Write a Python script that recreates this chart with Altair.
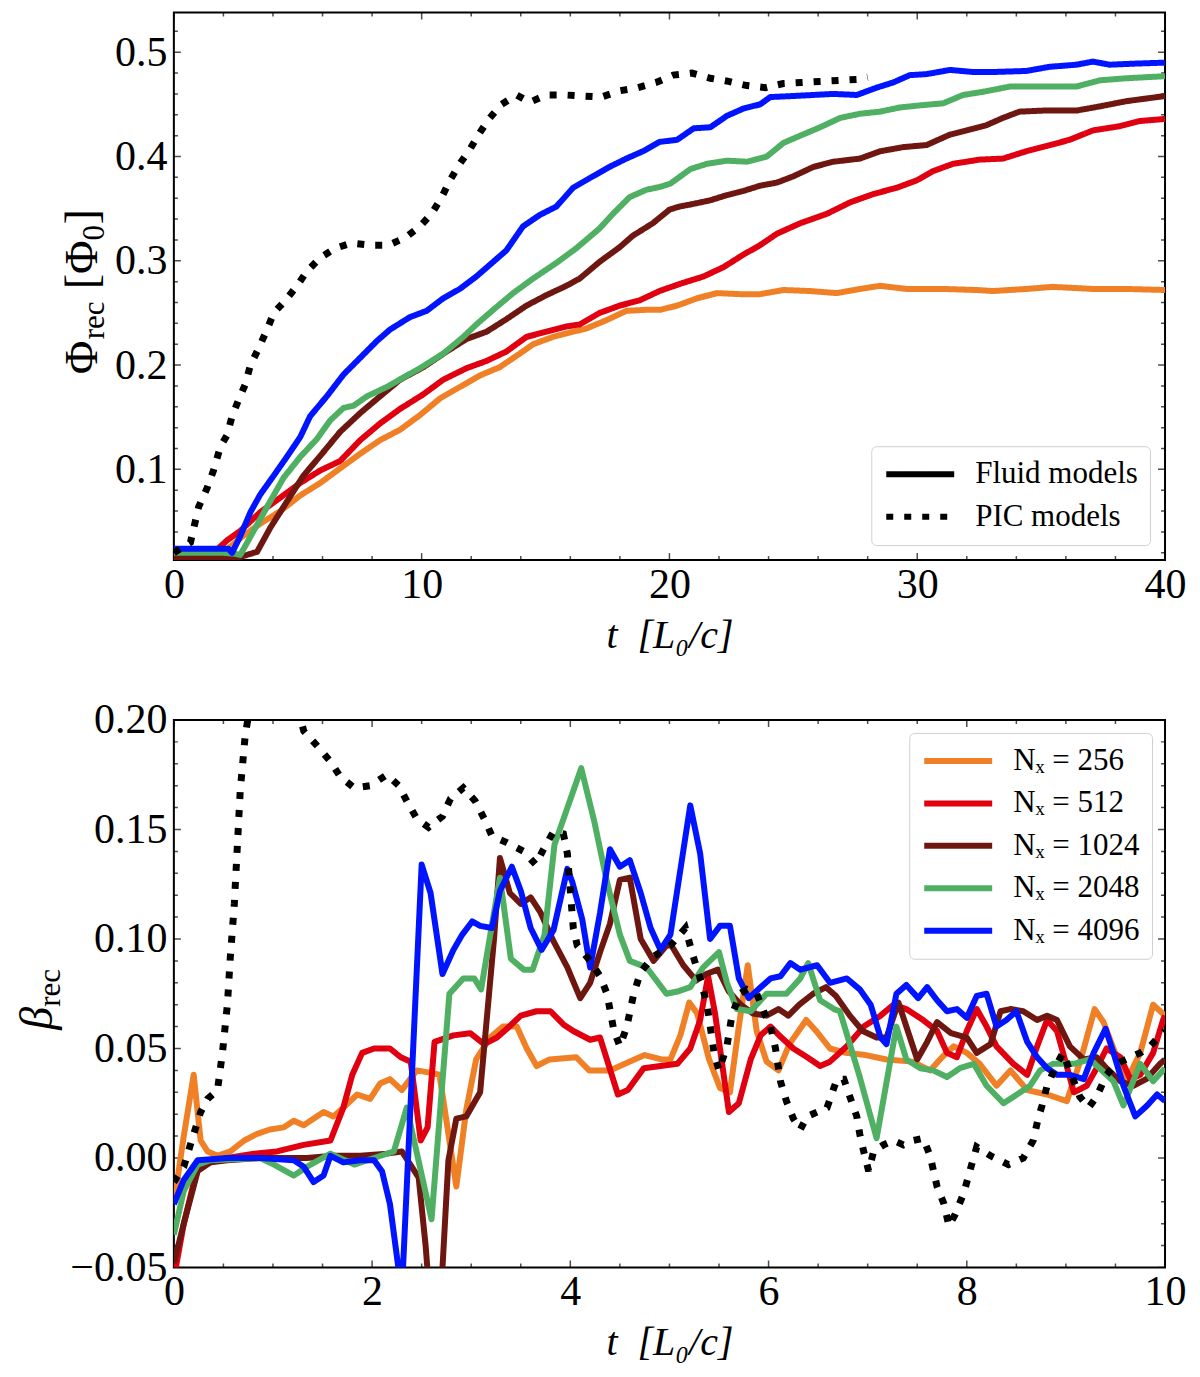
import pandas as pd
import altair as alt

W, H = 992, 548
FONT = "Liberation Serif"
LEGEND_FONT = "Times New Roman"
NBSP = "\u00a0"

labels = ["Nₓ = 256", "Nₓ = 512", "Nₓ = 1024", "Nₓ = 2048", "Nₓ = 4096"]
colors = ["#f08026", "#e0000f", "#6e1710", "#4fb063", "#0014ff"]
models = ["Fluid models", "PIC models"]

# ---- top panel: reconnected flux Phi_rec(t), (t, value) pairs
phi_256 = [(0, 0.016), (1, 0.016), (2, 0.020), (2.68, 0.034), (3.49, 0.048), (4.3, 0.060), (5.1, 0.075),
           (5.91, 0.087), (6.71, 0.101), (7.52, 0.115), (8.32, 0.128), (9.13, 0.138), (9.93, 0.152),
           (10.74, 0.168), (11.54, 0.179), (12.35, 0.190), (13.15, 0.198), (13.96, 0.211), (14.5, 0.220),
           (15.3, 0.227), (16.11, 0.232), (16.64, 0.235), (17.45, 0.243), (18.26, 0.252), (19.06, 0.253),
           (19.64, 0.253), (20.31, 0.257), (21.11, 0.264), (21.92, 0.269), (22.86, 0.268), (23.66, 0.268),
           (24.6, 0.272), (25.68, 0.271), (26.75, 0.269), (27.69, 0.273), (28.5, 0.276), (29.57, 0.273),
           (31.05, 0.273), (32.39, 0.272), (33.06, 0.271), (34.4, 0.273), (35.47, 0.275), (37.09, 0.273),
           (38.43, 0.273), (40, 0.272)]
phi_512 = [(0, 0.016), (1, 0.017), (1.6, 0.020), (2.15, 0.032), (2.68, 0.041), (3.49, 0.059), (4.3, 0.073),
           (5.1, 0.087), (5.91, 0.099), (6.71, 0.108), (7.52, 0.128), (8.32, 0.144), (9.13, 0.158),
           (10.07, 0.172), (10.87, 0.186), (11.81, 0.197), (12.62, 0.204), (13.42, 0.213), (14.23, 0.227),
           (15.03, 0.232), (15.84, 0.237), (16.38, 0.239), (17.18, 0.250), (17.99, 0.257), (18.79, 0.262),
           (19.6, 0.271), (20.44, 0.278), (21.38, 0.285), (22.19, 0.294), (22.99, 0.306), (23.66, 0.315),
           (24.34, 0.326), (25.28, 0.336), (26.35, 0.345), (27.29, 0.356), (28.23, 0.364), (29.17, 0.370),
           (29.97, 0.377), (30.64, 0.386), (31.45, 0.393), (32.52, 0.397), (33.46, 0.398), (34.4, 0.405),
           (35.21, 0.410), (36.15, 0.416), (37.09, 0.425), (38.16, 0.429), (38.97, 0.434), (40, 0.436)]
phi_1024 = [(0, 0.016), (1, 0.016), (2, 0.016), (2.68, 0.016), (3.36, 0.021), (3.89, 0.044), (4.56, 0.069),
            (5.23, 0.094), (5.91, 0.113), (6.71, 0.136), (7.52, 0.154), (8.32, 0.170), (9.13, 0.186),
            (10.07, 0.198), (11.01, 0.213), (11.81, 0.225), (12.62, 0.232), (13.42, 0.244), (14.23, 0.257),
            (15.03, 0.267), (15.84, 0.276), (16.38, 0.283), (17.18, 0.299), (17.99, 0.313), (18.52, 0.324),
            (19.33, 0.336), (20.0, 0.349), (20.4, 0.352), (20.85, 0.354), (21.65, 0.358), (22.32, 0.363),
            (22.99, 0.367), (23.66, 0.372), (24.34, 0.375), (25.0, 0.381), (25.81, 0.390), (26.62, 0.395),
            (27.69, 0.398), (28.5, 0.405), (29.44, 0.409), (30.38, 0.411), (31.32, 0.421), (31.99, 0.425),
            (32.79, 0.430), (33.46, 0.437), (34.13, 0.443), (35.07, 0.444), (36.42, 0.444), (37.36, 0.448),
            (38.43, 0.453), (40, 0.458)]
phi_2048 = [(0, 0.020), (1, 0.020), (2, 0.020), (2.5, 0.019), (2.68, 0.018), (3.22, 0.041), (3.76, 0.064),
            (4.43, 0.092), (5.1, 0.112), (5.77, 0.129), (6.31, 0.147), (6.85, 0.159), (7.25, 0.161),
            (7.79, 0.170), (8.59, 0.179), (9.26, 0.188), (10.0, 0.198), (10.87, 0.211), (11.68, 0.227),
            (12.21, 0.239), (12.89, 0.253), (13.69, 0.269), (14.5, 0.283), (15.44, 0.298), (16.24, 0.312),
            (17.18, 0.331), (17.72, 0.345), (18.39, 0.361), (19.06, 0.368), (19.64, 0.371), (20.04, 0.374),
            (20.85, 0.388), (21.52, 0.393), (22.32, 0.396), (23.13, 0.395), (23.93, 0.400), (24.6, 0.413),
            (25.28, 0.420), (26.08, 0.428), (26.89, 0.437), (27.69, 0.441), (28.5, 0.443), (29.3, 0.447),
            (30.1, 0.449), (31.05, 0.451), (31.85, 0.459), (32.65, 0.462), (33.73, 0.467), (35.07, 0.467),
            (36.42, 0.467), (37.36, 0.473), (38.43, 0.475), (40, 0.477)]
phi_4096 = [(0, 0.024), (1, 0.024), (2, 0.024), (2.2, 0.024), (2.35, 0.020), (2.68, 0.036), (3.09, 0.059),
            (3.49, 0.076), (4.03, 0.094), (4.56, 0.112), (5.1, 0.131), (5.5, 0.151), (6.17, 0.170),
            (6.85, 0.191), (7.52, 0.207), (8.19, 0.223), (8.72, 0.234), (9.53, 0.246), (10.2, 0.252),
            (10.87, 0.264), (11.54, 0.273), (12.21, 0.285), (12.89, 0.299), (13.42, 0.310), (14.09, 0.333),
            (14.77, 0.344), (15.44, 0.352), (16.11, 0.370), (16.91, 0.381), (17.58, 0.390), (18.26, 0.398),
            (18.93, 0.405), (19.6, 0.414), (20.31, 0.416), (20.98, 0.427), (21.65, 0.428), (22.32, 0.439),
            (22.99, 0.446), (23.66, 0.450), (24.07, 0.457), (25.0, 0.458), (25.81, 0.459), (26.62, 0.460),
            (27.56, 0.459), (28.36, 0.466), (29.03, 0.471), (29.7, 0.478), (30.38, 0.479), (31.32, 0.483),
            (32.26, 0.481), (33.06, 0.481), (34.4, 0.482), (35.34, 0.486), (36.42, 0.488), (37.09, 0.491),
            (37.76, 0.488), (38.72, 0.489), (40, 0.490)]
phi_pic = [(0, 0.020), (0.67, 0.030), (1.0, 0.064), (1.34, 0.082), (1.6, 0.099), (1.88, 0.122), (2.15, 0.133),
           (2.35, 0.151), (2.62, 0.167), (2.89, 0.182), (3.09, 0.200), (3.42, 0.216), (3.76, 0.234),
           (4.03, 0.250), (4.5, 0.262), (4.97, 0.276), (5.37, 0.290), (5.91, 0.303), (6.51, 0.312),
           (7.18, 0.317), (7.92, 0.315), (8.66, 0.315), (9.33, 0.322), (9.93, 0.333), (10.4, 0.345),
           (10.81, 0.361), (11.14, 0.377), (11.54, 0.393), (11.95, 0.407), (12.35, 0.423), (12.75, 0.437),
           (13.22, 0.450), (13.83, 0.459), (14.36, 0.452), (15.03, 0.459), (15.77, 0.459), (16.51, 0.458),
           (17.25, 0.457), (17.99, 0.463), (18.72, 0.466), (19.46, 0.471), (20.15, 0.478), (20.91, 0.480),
           (21.65, 0.475), (22.39, 0.472), (23.13, 0.468), (23.87, 0.466), (24.6, 0.470), (25.34, 0.471),
           (26.08, 0.472), (26.89, 0.473), (27.6, 0.474), (28.0, 0.476)]

# ---- bottom panel: reconnection rate beta_rec(t)
beta_256 = [(0, -0.021), (0.1, 0.010), (0.2, 0.038), (0.27, 0.008), (0.34, 0.003), (0.44, 0.001), (0.57, 0.003),
            (0.71, 0.008), (0.84, 0.011), (0.97, 0.013), (1.11, 0.014), (1.21, 0.017), (1.31, 0.015),
            (1.51, 0.021), (1.61, 0.019), (1.71, 0.023), (1.85, 0.029), (1.98, 0.027), (2.08, 0.034),
            (2.18, 0.036), (2.3, 0.031), (2.45, 0.040), (2.58, 0.039), (2.68, 0.038), (2.85, -0.013),
            (2.95, 0.022), (3.05, 0.045), (3.19, 0.055), (3.32, 0.060), (3.46, 0.060), (3.56, 0.050),
            (3.66, 0.042), (3.79, 0.045), (4.06, 0.046), (4.19, 0.040), (4.4, 0.040), (4.55, 0.043),
            (4.75, 0.047), (4.92, 0.045), (5.01, 0.045), (5.11, 0.056), (5.2, 0.071), (5.28, 0.066),
            (5.4, 0.045), (5.51, 0.032), (5.61, 0.030), (5.7, 0.060), (5.79, 0.088), (5.88, 0.058),
            (5.98, 0.044), (6.1, 0.040), (6.21, 0.052), (6.38, 0.063), (6.48, 0.058), (6.62, 0.050),
            (6.78, 0.048), (6.98, 0.047), (7.19, 0.045), (7.45, 0.044), (7.63, 0.040), (7.75, 0.046),
            (7.87, 0.051), (8.0, 0.048), (8.13, 0.043), (8.3, 0.033), (8.44, 0.040), (8.61, 0.031),
            (8.81, 0.029), (9.01, 0.026), (9.15, 0.045), (9.29, 0.068), (9.38, 0.062), (9.48, 0.050),
            (9.61, 0.035), (9.75, 0.048), (9.88, 0.070), (10.0, 0.065)]
beta_512 = [(0, -0.055), (0.1, -0.030), (0.24, -0.004), (0.37, -0.002), (0.54, 0.0), (0.81, 0.002), (1.04, 0.003),
            (1.31, 0.006), (1.58, 0.008), (1.71, 0.023), (1.8, 0.038), (1.9, 0.048), (2.02, 0.050),
            (2.18, 0.050), (2.29, 0.046), (2.39, 0.044), (2.49, 0.008), (2.56, 0.014), (2.63, 0.053),
            (2.82, 0.056), (2.99, 0.057), (3.13, 0.052), (3.26, 0.055), (3.36, 0.059), (3.5, 0.065),
            (3.66, 0.067), (3.8, 0.067), (3.93, 0.061), (4.03, 0.058), (4.2, 0.054), (4.3, 0.055),
            (4.48, 0.029), (4.58, 0.031), (4.74, 0.041), (4.91, 0.042), (5.08, 0.043), (5.21, 0.050),
            (5.31, 0.063), (5.39, 0.083), (5.46, 0.066), (5.6, 0.021), (5.7, 0.025), (5.82, 0.045),
            (5.92, 0.056), (6.02, 0.060), (6.13, 0.055), (6.25, 0.050), (6.39, 0.046), (6.52, 0.042),
            (6.62, 0.044), (6.79, 0.051), (6.96, 0.060), (7.13, 0.065), (7.26, 0.070), (7.39, 0.068),
            (7.56, 0.063), (7.7, 0.058), (7.8, 0.048), (7.9, 0.046), (8.0, 0.058), (8.1, 0.068),
            (8.2, 0.060), (8.3, 0.051), (8.47, 0.043), (8.61, 0.038), (8.71, 0.051), (8.81, 0.063),
            (8.91, 0.058), (8.99, 0.045), (9.08, 0.030), (9.21, 0.033), (9.31, 0.041), (9.41, 0.050),
            (9.55, 0.046), (9.65, 0.036), (9.75, 0.038), (9.88, 0.048), (9.98, 0.063), (10.0, 0.065)]
beta_1024 = [(0, -0.048), (0.1, -0.030), (0.24, -0.006), (0.37, -0.002), (0.54, -0.001), (0.87, 0.0),
             (1.34, 0.0), (1.61, 0.001), (1.88, 0.001), (2.15, 0.002), (2.3, 0.003), (2.47, -0.009),
             (2.54, -0.040), (2.6, -0.075), (2.68, -0.075), (2.77, -0.001), (2.85, 0.018), (2.95, 0.019),
             (3.09, 0.030), (3.18, 0.075), (3.23, 0.100), (3.29, 0.137), (3.39, 0.121), (3.5, 0.116),
             (3.6, 0.119), (3.7, 0.112), (3.83, 0.099), (3.97, 0.087), (4.1, 0.073), (4.2, 0.080),
             (4.3, 0.094), (4.4, 0.107), (4.5, 0.127), (4.6, 0.128), (4.71, 0.100), (4.84, 0.090),
             (4.97, 0.097), (5.02, 0.097), (5.14, 0.088), (5.27, 0.081), (5.37, 0.084), (5.49, 0.086),
             (5.6, 0.076), (5.72, 0.070), (5.84, 0.066), (5.98, 0.065), (6.1, 0.068), (6.2, 0.065),
             (6.31, 0.070), (6.45, 0.075), (6.58, 0.078), (6.68, 0.074), (6.82, 0.065), (6.95, 0.058),
             (7.09, 0.055), (7.19, 0.055), (7.31, 0.071), (7.5, 0.045), (7.6, 0.053), (7.7, 0.062),
             (7.84, 0.057), (8.0, 0.055), (8.1, 0.048), (8.24, 0.052), (8.34, 0.067), (8.44, 0.068),
             (8.57, 0.067), (8.71, 0.063), (8.81, 0.065), (8.91, 0.063), (9.04, 0.051), (9.18, 0.045),
             (9.31, 0.046), (9.41, 0.041), (9.55, 0.035), (9.68, 0.033), (9.81, 0.036), (9.95, 0.043),
             (10.0, 0.045)]
beta_2048 = [(0, -0.035), (0.1, -0.015), (0.24, -0.003), (0.37, -0.001), (0.87, 0.0), (1.01, -0.003),
             (1.21, -0.008), (1.38, -0.003), (1.58, 0.002), (1.82, -0.003), (2.02, 0.0), (2.22, 0.003),
             (2.35, 0.023), (2.6, -0.028), (2.78, 0.075), (2.92, 0.082), (3.03, 0.082), (3.1, 0.077),
             (3.2, 0.104), (3.29, 0.128), (3.4, 0.091), (3.53, 0.086), (3.62, 0.086), (3.74, 0.102),
             (3.84, 0.143), (4.11, 0.178), (4.24, 0.154), (4.37, 0.126), (4.5, 0.102), (4.6, 0.090),
             (4.77, 0.087), (4.97, 0.075), (5.08, 0.076), (5.21, 0.078), (5.34, 0.087), (5.5, 0.094),
             (5.58, 0.080), (5.68, 0.068), (5.82, 0.067), (5.98, 0.075), (6.18, 0.075), (6.32, 0.082),
             (6.4, 0.089), (6.52, 0.072), (6.66, 0.068), (6.72, 0.067), (6.92, 0.037), (7.09, 0.009),
             (7.29, 0.060), (7.39, 0.045), (7.53, 0.041), (7.66, 0.040), (7.8, 0.037), (7.93, 0.041),
             (8.07, 0.043), (8.2, 0.033), (8.37, 0.025), (8.54, 0.030), (8.64, 0.033), (8.74, 0.040),
             (8.87, 0.043), (9.08, 0.043), (9.24, 0.045), (9.34, 0.041), (9.48, 0.035), (9.58, 0.024),
             (9.75, 0.043), (9.88, 0.035), (10.0, 0.041)]
beta_4096 = [(0, -0.021), (0.1, -0.010), (0.24, -0.001), (0.54, 0.0), (0.87, 0.0), (1.21, -0.001),
             (1.31, -0.004), (1.41, -0.011), (1.51, -0.008), (1.58, 0.001), (1.71, -0.002), (1.88, -0.001),
             (2.02, -0.001), (2.1, -0.006), (2.18, -0.021), (2.3, -0.062), (2.5, 0.134), (2.59, 0.121),
             (2.71, 0.084), (2.82, 0.095), (2.91, 0.102), (3.01, 0.108), (3.09, 0.106), (3.21, 0.105),
             (3.29, 0.122), (3.41, 0.133), (3.5, 0.122), (3.6, 0.105), (3.71, 0.095), (3.83, 0.104),
             (3.97, 0.132), (4.02, 0.126), (4.12, 0.109), (4.2, 0.087), (4.3, 0.112), (4.4, 0.141),
             (4.5, 0.133), (4.6, 0.136), (4.71, 0.121), (4.81, 0.105), (4.91, 0.095), (5.01, 0.102),
             (5.21, 0.161), (5.31, 0.139), (5.41, 0.100), (5.51, 0.106), (5.61, 0.106), (5.7, 0.082),
             (5.8, 0.073), (5.92, 0.078), (6.02, 0.082), (6.12, 0.083), (6.22, 0.089), (6.32, 0.086),
             (6.49, 0.088), (6.62, 0.080), (6.79, 0.082), (6.92, 0.077), (7.03, 0.070), (7.13, 0.055),
             (7.19, 0.052), (7.29, 0.075), (7.39, 0.079), (7.51, 0.073), (7.6, 0.078), (7.7, 0.072),
             (7.8, 0.067), (7.9, 0.068), (8.0, 0.064), (8.1, 0.074), (8.2, 0.075), (8.3, 0.060),
             (8.4, 0.063), (8.5, 0.067), (8.61, 0.053), (8.71, 0.046), (8.81, 0.041), (8.91, 0.038),
             (9.04, 0.038), (9.18, 0.036), (9.28, 0.048), (9.4, 0.059), (9.48, 0.048), (9.58, 0.033),
             (9.7, 0.019), (9.82, 0.024), (9.92, 0.029), (10.0, 0.026)]
beta_pic = [(0, -0.011), (0.1, -0.004), (0.18, 0.008), (0.27, 0.021), (0.34, 0.027), (0.44, 0.031), (0.49, 0.048),
            (0.54, 0.070), (0.57, 0.092), (0.61, 0.116), (0.64, 0.142), (0.67, 0.168), (0.72, 0.193),
            (0.8, 0.215), (1.0, 0.240), (1.2, 0.215), (1.31, 0.195), (1.45, 0.188), (1.58, 0.181),
            (1.68, 0.174), (1.82, 0.169), (1.98, 0.170), (2.15, 0.175), (2.27, 0.170), (2.35, 0.163),
            (2.45, 0.155), (2.57, 0.151), (2.71, 0.156), (2.79, 0.164), (2.92, 0.169), (3.04, 0.163),
            (3.13, 0.155), (3.21, 0.147), (3.36, 0.144), (3.53, 0.140), (3.65, 0.134), (3.73, 0.141),
            (3.83, 0.149), (3.93, 0.148), (3.97, 0.139), (4.0, 0.122), (4.03, 0.105), (4.07, 0.097),
            (4.2, 0.090), (4.3, 0.083), (4.37, 0.075), (4.44, 0.058), (4.5, 0.051), (4.57, 0.060),
            (4.64, 0.075), (4.71, 0.085), (4.84, 0.092), (5.01, 0.097), (5.16, 0.105), (5.24, 0.092),
            (5.31, 0.082), (5.38, 0.070), (5.45, 0.048), (5.5, 0.040), (5.58, 0.051), (5.63, 0.065),
            (5.71, 0.075), (5.78, 0.077), (5.88, 0.075), (5.95, 0.067), (6.02, 0.060), (6.07, 0.050),
            (6.12, 0.035), (6.18, 0.026), (6.25, 0.018), (6.32, 0.013), (6.39, 0.019), (6.49, 0.021),
            (6.59, 0.023), (6.69, 0.036), (6.76, 0.036), (6.82, 0.028), (6.89, 0.019), (6.92, 0.011),
            (6.96, 0.003), (7.01, -0.006), (7.06, 0.003), (7.16, 0.006), (7.26, 0.008), (7.36, 0.006),
            (7.46, 0.008), (7.56, 0.009), (7.63, 0.001), (7.7, -0.013), (7.77, -0.021), (7.82, -0.031),
            (7.88, -0.026), (7.97, -0.016), (8.03, -0.006), (8.1, 0.005), (8.24, 0.001), (8.42, -0.003),
            (8.57, 0.000), (8.67, 0.008), (8.72, 0.018), (8.76, 0.024), (8.81, 0.033), (8.91, 0.043),
            (8.97, 0.048), (9.08, 0.035), (9.14, 0.028), (9.23, 0.023), (9.31, 0.028), (9.41, 0.038),
            (9.51, 0.043), (9.65, 0.046), (9.75, 0.048), (9.85, 0.051), (9.95, 0.056), (10.0, 0.058)]

# tick positions
top_x_major = [0, 10, 20, 30, 40]
top_x_minor = [k for k in range(2, 40, 2) if k % 10]
top_y_major = [0.1, 0.2, 0.3, 0.4, 0.5]
top_y_minor = [round(0.02 * k, 2) for k in range(1, 27) if k % 5]
bot_x_major = [0, 2, 4, 6, 8, 10]
bot_x_minor = [k / 2 for k in range(1, 20) if k % 4]
bot_y_major = [-0.05, 0.0, 0.05, 0.10, 0.15, 0.20]
bot_y_minor = [round(0.01 * k, 2) for k in range(-4, 20) if k % 5]


def long_df(series_list, names, model):
    parts = [pd.DataFrame(s, columns=["t", "v"]).assign(series=n, model=model)
             for s, n in zip(series_list, names)]
    return pd.concat(parts, ignore_index=True)


def tick_layers(xmaj, xmin, ymaj, ymin, xs, ys, xax, yax):
    xt = pd.DataFrame({"t": xmaj + xmin, "len": [14] * len(xmaj) + [8] * len(xmin)})
    yt = pd.DataFrame({"v": ymaj + ymin, "len": [14] * len(ymaj) + [8] * len(ymin)})
    tx = alt.Chart(xt).mark_tick(orient="vertical", clip=True, thickness=1.5, color="black")
    ty = alt.Chart(yt).mark_tick(orient="horizontal", clip=True, thickness=1.5, color="black")
    size = alt.Size("len:Q", scale=None)
    return [
        tx.encode(x=alt.X("t:Q", scale=xs, axis=xax), y=alt.value(H), size=size),
        tx.encode(x=alt.X("t:Q", scale=xs, axis=xax), y=alt.value(0), size=size),
        ty.encode(y=alt.Y("v:Q", scale=ys, axis=yax), x=alt.value(0), size=size),
        ty.encode(y=alt.Y("v:Q", scale=ys, axis=yax), x=alt.value(W), size=size),
    ]


def rot_text(s, x, y, size, style="normal"):
    return alt.Chart(pd.DataFrame({"s": [s]})).mark_text(
        angle=270, align="left", baseline="alphabetic", font=FONT,
        fontSize=size, fontStyle=style, color="black"
    ).encode(x=alt.value(x), y=alt.value(y), text="s:N")


def legend(orient, offset, **kw):
    return alt.Legend(orient=orient, offset=offset, title=None, labelFont=LEGEND_FONT, labelFontSize=31,
                      labelColor="black", symbolType="stroke", symbolSize=4624,
                      symbolStrokeWidth=6, labelOffset=18, clipHeight=32, rowPadding=10.5, **kw)


x_title = "t" + NBSP + NBSP + "[L₀/c]"
color_scale = alt.Scale(domain=labels, range=colors)
dash_scale = alt.Scale(domain=models, range=[[1, 0], [7, 11]])

# ---------------- top panel
xs1 = alt.Scale(domain=[0, 40], nice=False, zero=False)
ys1 = alt.Scale(domain=[0.013, 0.538], nice=False, zero=False)
xa1 = alt.Axis(values=top_x_major, format="d", title=x_title, labelPadding=4,
               titlePadding=10, titleFontStyle="italic")
ya1 = alt.Axis(values=top_y_major, format=".1f", title=None, labelPadding=7)

fluid = long_df([phi_256, phi_512, phi_1024, phi_2048, phi_4096], labels, "Fluid models")
pic1 = long_df([phi_pic], ["PIC"], "PIC models")
dash_legend = legend("bottom-right", 15, symbolStrokeColor="black")

top_lines = alt.Chart(fluid).mark_line(clip=True, strokeWidth=6, strokeJoin="round").encode(
    x=alt.X("t:Q", scale=xs1, axis=xa1),
    y=alt.Y("v:Q", scale=ys1, axis=ya1),
    color=alt.Color("series:N", scale=color_scale, legend=None),
    strokeDash=alt.StrokeDash("model:N", scale=dash_scale, legend=dash_legend),
)
top_pic = alt.Chart(pic1).mark_line(clip=True, strokeWidth=7, color="black").encode(
    x=alt.X("t:Q", scale=xs1, axis=xa1),
    y=alt.Y("v:Q", scale=ys1, axis=ya1),
    strokeDash=alt.StrokeDash("model:N", scale=dash_scale, legend=dash_legend),
)
top_title = [
    rot_text("Φ", -77, 362, 46),
    rot_text("rec", -70, 327, 31),
    rot_text("[Φ", -77, 277, 46),
    rot_text("0", -70, 228, 31),
    rot_text("]", -77, 212, 46),
]
top = alt.layer(
    *tick_layers(top_x_major, top_x_minor, top_y_major, top_y_minor, xs1, ys1, xa1, ya1),
    top_lines, top_pic, *top_title
).properties(width=W, height=H)

# ---------------- bottom panel
xs2 = alt.Scale(domain=[0, 10], nice=False, zero=False)
ys2 = alt.Scale(domain=[-0.05, 0.20], nice=False, zero=False)
xa2 = alt.Axis(values=bot_x_major, format="d", title=x_title, labelPadding=4,
               titlePadding=10, titleFontStyle="italic")
ya2 = alt.Axis(values=bot_y_major, format=".2f", title=None, labelPadding=7)

fluid2 = long_df([beta_256, beta_512, beta_1024, beta_2048, beta_4096], labels, "Fluid models")
pic2 = long_df([beta_pic], ["PIC"], "PIC models")

bot_lines = alt.Chart(fluid2).mark_line(clip=True, strokeWidth=6, strokeJoin="round").encode(
    x=alt.X("t:Q", scale=xs2, axis=xa2),
    y=alt.Y("v:Q", scale=ys2, axis=ya2),
    color=alt.Color("series:N", scale=color_scale, legend=legend("top-right", 13)),
)
bot_pic = alt.Chart(pic2).mark_line(clip=True, strokeWidth=7, color="black",
                                    strokeDash=[7, 11]).encode(
    x=alt.X("t:Q", scale=xs2, axis=xa2),
    y=alt.Y("v:Q", scale=ys2, axis=ya2),
)
bot_title = [
    rot_text("β", -122, 310, 46, "italic"),
    rot_text("rec", -114, 287, 31),
]
bottom = alt.layer(
    *tick_layers(bot_x_major, bot_x_minor, bot_y_major, bot_y_minor, xs2, ys2, xa2, ya2),
    bot_lines, bot_pic, *bot_title
).properties(width=W, height=H)

chart = alt.vconcat(top, bottom, spacing=42).resolve_scale(
    color="independent", strokeDash="independent"
).resolve_legend(
    color="independent", strokeDash="independent"
).properties(
    padding={"left": 6, "top": 3, "right": 5, "bottom": 5}
).configure(
    font=FONT
).configure_view(
    stroke="black", strokeWidth=2
).configure_axis(
    labelFont=FONT, labelFontSize=42, labelColor="black",
    titleFont=FONT, titleFontSize=40, titleFontWeight="normal", titleColor="black",
    grid=False, ticks=False, domain=False, labelFlush=False, labelOverlap=False
).configure_legend(
    labelFont=LEGEND_FONT, labelLimit=400, strokeColor="#d0d0d0", cornerRadius=5,
    padding=12, fillColor="white"
)

chart.save("out.html", embed_options={"renderer": "svg", "actions": False})
